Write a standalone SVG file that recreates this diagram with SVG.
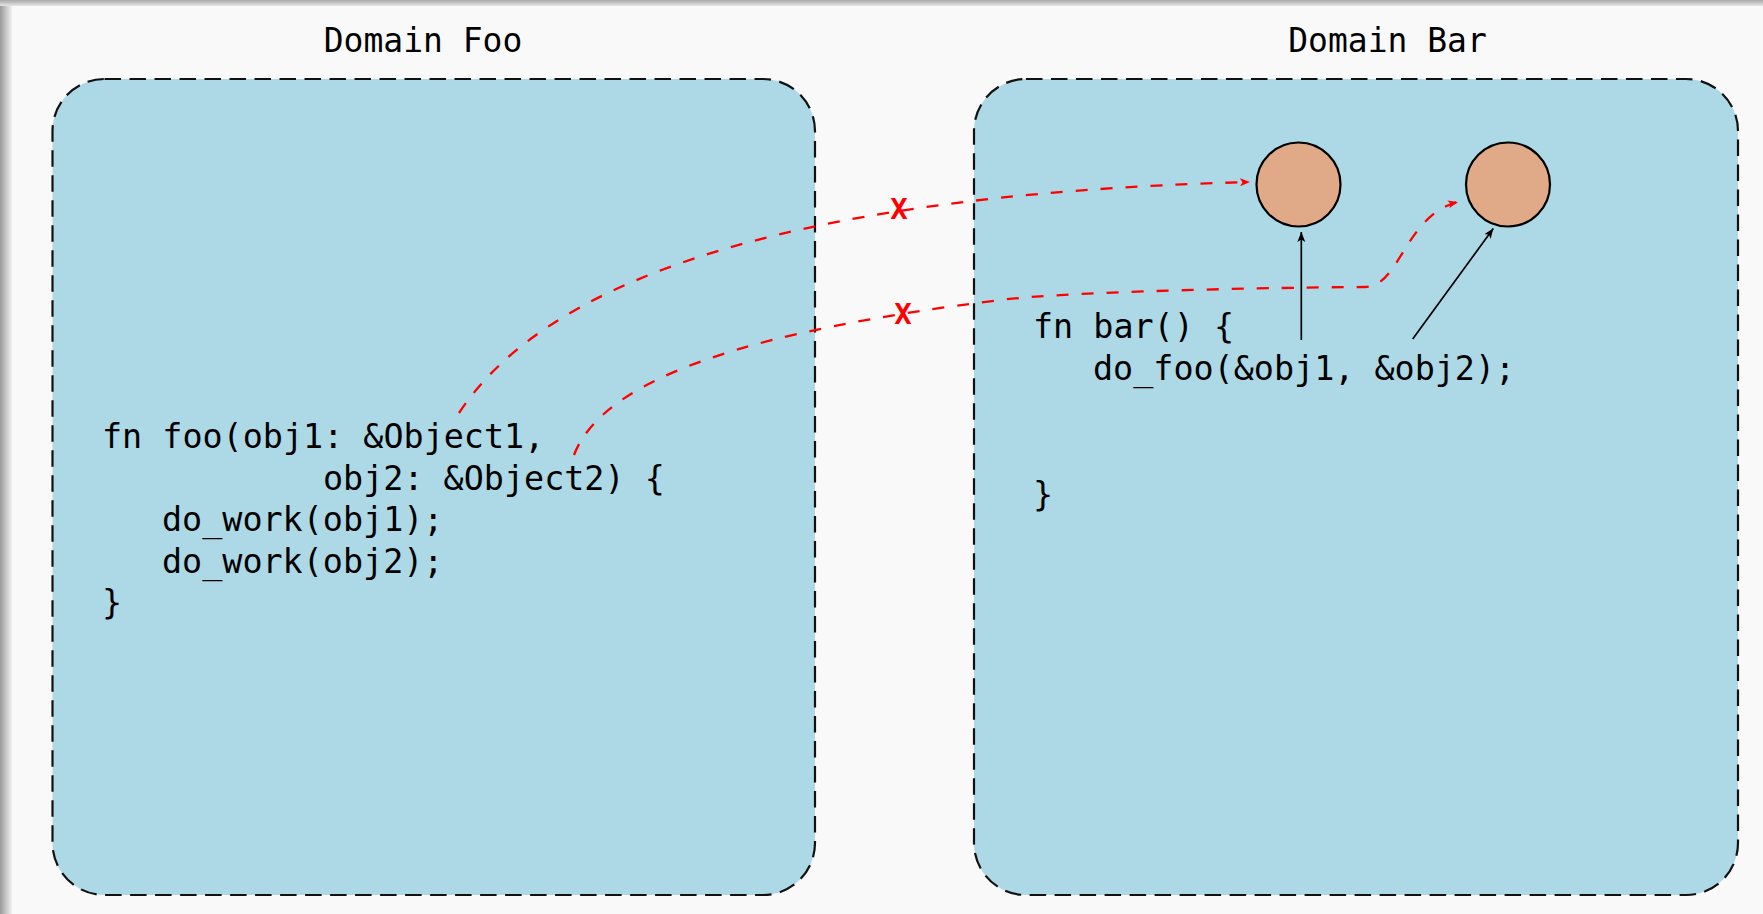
<svg xmlns="http://www.w3.org/2000/svg" width="1763" height="914" viewBox="0 0 1763 914">
  <defs>
    <linearGradient id="shadowL" x1="0" y1="0" x2="1" y2="0">
      <stop offset="0" stop-color="#9a9a9a"/>
      <stop offset="1" stop-color="#f2f2f2"/>
    </linearGradient>
    <linearGradient id="shadowT" x1="0" y1="0" x2="0" y2="1">
      <stop offset="0" stop-color="#a8a8a8"/>
      <stop offset="1" stop-color="#e6e6e6"/>
    </linearGradient>
    <marker id="arrowRed" markerUnits="userSpaceOnUse" markerWidth="12" markerHeight="10" refX="10" refY="4" orient="auto">
      <path d="M0,0 L10,4 L0,8 L2.5,4 Z" fill="#ff0000"/>
    </marker>
    <marker id="arrowBlack" markerUnits="userSpaceOnUse" markerWidth="12" markerHeight="10" refX="10" refY="4" orient="auto">
      <path d="M0,0 L10,4 L0,8 L2.5,4 Z" fill="#000000"/>
    </marker>
  </defs>
  <style>
    .domain { fill: #add8e6; stroke: #111; stroke-width: 2.2; stroke-dasharray: 16.5 8.5; }
    .title { font-family: "DejaVu Sans Mono", "Liberation Mono", monospace; font-size: 33px; fill: #000; text-anchor: middle; }
    .code { font-family: "DejaVu Sans Mono", "Liberation Mono", monospace; font-size: 33.4px; fill: #000; }
    .obj { fill: #e0a987; stroke: #000; stroke-width: 2.2; }
    .bad { fill: none; stroke: #ff0000; stroke-width: 2.3; stroke-dasharray: 12 13; marker-end: url(#arrowRed); }
    .ref { fill: none; stroke: #000; stroke-width: 1.7; marker-end: url(#arrowBlack); }
    .cross { font-family: "DejaVu Sans Mono", "Liberation Mono", monospace; font-weight: bold; font-size: 29px; fill: #ff0000; text-anchor: middle; }
  </style>

  <!-- page background with window shadow -->
  <rect x="0" y="0" width="1763" height="914" fill="#f9f9f9"/>
  <rect x="0" y="0" width="12" height="914" fill="url(#shadowL)"/>
  <rect x="0" y="0" width="1763" height="6" fill="url(#shadowT)"/>

  <g id="domain-foo">
    <rect class="domain" x="52.5" y="79" width="762.5" height="816" rx="52" ry="52"/>
    <text class="title" x="423" y="52">Domain Foo</text>
    <text class="code" x="102" y="448">fn foo(obj1: &amp;Object1,</text>
    <text class="code" x="323" y="489.5">obj2: &amp;Object2) {</text>
    <text class="code" x="162" y="531">do_work(obj1);</text>
    <text class="code" x="162" y="572.5">do_work(obj2);</text>
    <text class="code" x="102" y="614">}</text>
  </g>

  <g id="domain-bar">
    <rect class="domain" x="974" y="79" width="764" height="816" rx="52" ry="52"/>
    <text class="title" x="1387.5" y="52">Domain Bar</text>
    <text class="code" x="1033" y="338">fn bar() {</text>
    <text class="code" x="1093" y="380">do_foo(&amp;obj1, &amp;obj2);</text>
    <text class="code" x="1033" y="506">}</text>
  </g>

  <g id="object1">
    <circle class="obj" cx="1298.5" cy="184.5" r="42"/>
  </g>
  <g id="object2">
    <circle class="obj" cx="1508" cy="184.5" r="42"/>
  </g>

  <g id="connectors">
    <path class="bad" d="M 459 413 C 540 290, 760 195, 1250 182"/>
    <path class="bad" d="M 574 455 C 605 375, 760 330, 1000 300 C 1080 290, 1330 287, 1365 287 C 1400 287, 1405 215, 1458 202"/>
    <path class="ref" d="M 1301.3 340 L 1301.3 232"/>
    <path class="ref" d="M 1412.7 339 L 1493.3 228.5"/>
    <text class="cross" x="899" y="218.5">X</text>
    <text class="cross" x="903" y="323.5">X</text>
  </g>
</svg>
